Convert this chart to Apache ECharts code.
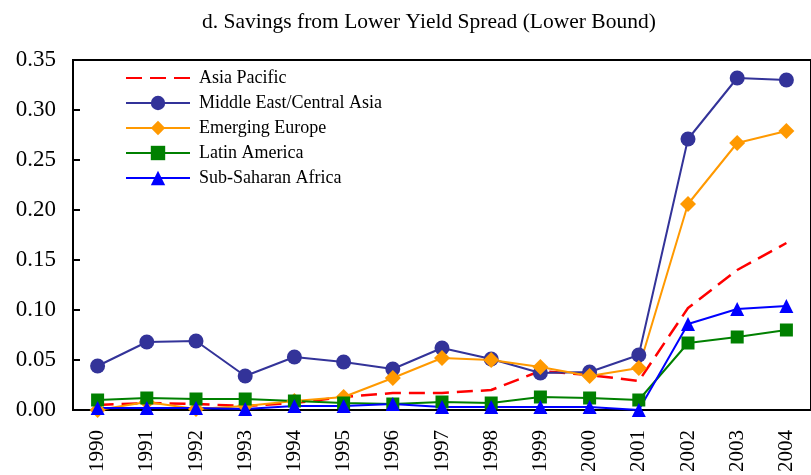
<!DOCTYPE html>
<html>
<head>
<meta charset="utf-8">
<script src="https://cdn.jsdelivr.net/npm/echarts@6/dist/echarts.min.js"></script>
<style>
	html, body { margin: 0; padding: 0; background: #fff; }
	#chart { width: 811px; height: 475px; }
</style>
</head>
<body>
<div id="chart"></div>
<script>
const years = ['1990', '1991', '1992', '1993', '1994', '1995', '1996', '1997', '1998', '1999', '2000', '2001', '2002', '2003', '2004']
const asiaPacific = [0.005, 0.007, 0.006, 0.004, 0.007, 0.013, 0.017, 0.017, 0.020, 0.039, 0.035, 0.029, 0.102, 0.140, 0.167]
const middleEast = [0.044, 0.068, 0.069, 0.034, 0.053, 0.048, 0.041, 0.062, 0.051, 0.037, 0.038, 0.055, 0.271, 0.332, 0.330]
const emergingEurope = [0.000, 0.008, 0.001, 0.004, 0.009, 0.013, 0.032, 0.052, 0.050, 0.043, 0.034, 0.042, 0.206, 0.267, 0.279]
const latinAmerica = [0.010, 0.012, 0.011, 0.011, 0.009, 0.007, 0.006, 0.008, 0.007, 0.013, 0.012, 0.010, 0.067, 0.073, 0.080]
const subSaharan = [0.002, 0.002, 0.002, 0.001, 0.004, 0.004, 0.006, 0.003, 0.003, 0.003, 0.003, 0.000, 0.086, 0.101, 0.104]

const serif = '"Liberation Serif", "DejaVu Serif", serif'
let myChart = echarts.init(document.getElementById('chart'))

// common line series settings
const lineSeries = (name, data, color, symbol, size) => {
	return {
		name: name,
		type: 'line',
		data: data,
		symbol: symbol,
		symbolSize: size,
		animation: false,
		lineStyle: { color: color, width: 2 },
		itemStyle: { color: color }
	}
}

let option = {
	backgroundColor: '#fff',
	title: {
		text: 'd. Savings from Lower Yield Spread (Lower Bound)',
		left: 197,
		top: 6,
		textStyle: { fontFamily: serif, fontSize: 21.5, fontWeight: 'normal', color: '#000' }
	},
	legend: {
		orient: 'vertical',
		left: 120,
		top: 64,
		itemWidth: 64,
		itemHeight: 18,
		itemGap: 7,
		textStyle: { fontFamily: serif, fontSize: 18, color: '#000', padding: [0, 0, 0, 4] },
		data: [
			// dashed series has no marker, hide the legend symbol
			{ name: 'Asia Pacific', itemStyle: { opacity: 0 } },
			'Middle East/Central Asia',
			'Emerging Europe',
			'Latin America',
			'Sub-Saharan Africa'
		]
	},
	grid: {
		left: 73,
		top: 60,
		right: -3,
		bottom: 63,
		show: true,
		borderColor: '#000',
		borderWidth: 2
	},
	xAxis: {
		type: 'category',
		data: years,
		boundaryGap: true,
		axisLine: { lineStyle: { color: '#000', width: 2 } },
		axisTick: { inside: true, length: 7, lineStyle: { color: '#000', width: 2 } },
		axisLabel: { rotate: 90, margin: 20, fontFamily: serif, fontSize: 21, color: '#000' }
	},
	yAxis: {
		type: 'value',
		min: 0,
		max: 0.35,
		interval: 0.05,
		axisLine: { show: true, lineStyle: { color: '#000', width: 2 } },
		axisTick: { show: true, inside: true, length: 7, lineStyle: { color: '#000', width: 2 } },
		splitLine: { show: false },
		axisLabel: {
			margin: 17,
			fontFamily: serif,
			fontSize: 23,
			color: '#000',
			formatter: (v) => v.toFixed(2)
		}
	},
	series: [
		Object.assign(lineSeries('Asia Pacific', asiaPacific, '#ff0000', 'none', 0), {
			lineStyle: { color: '#ff0000', width: 2.5, type: [16, 8] }
		}),
		lineSeries('Middle East/Central Asia', middleEast, '#333399', 'circle', 15),
		lineSeries('Emerging Europe', emergingEurope, '#ff9900', 'diamond', 16),
		lineSeries('Latin America', latinAmerica, '#008000', 'rect', 13),
		lineSeries('Sub-Saharan Africa', subSaharan, '#0000ff', 'triangle', 14)
	]
}
myChart.setOption(option)
</script>
</body>
</html>
